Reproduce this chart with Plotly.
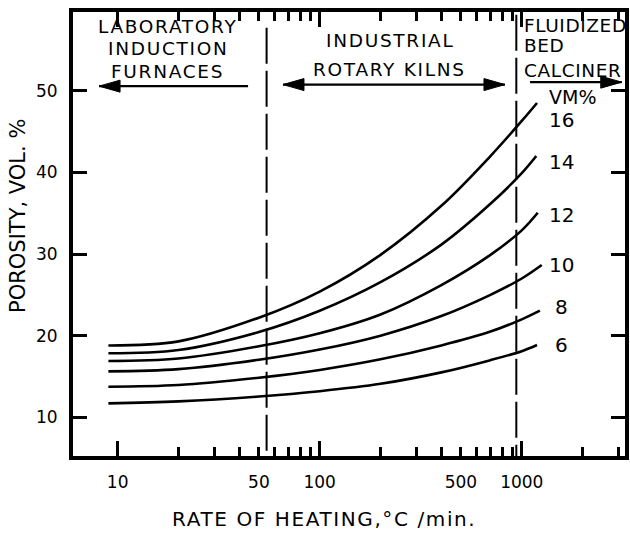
import math
import plotly.graph_objects as go

# ---------------- data ----------------
vm_levels = [16, 14, 12, 10, 8, 6]
rate = [9, 20, 50, 100, 200, 400, 700, 1000]
end_rate = [1190, 1180, 1200, 1256, 1230, 1190]
porosity_16 = [18.8, 19.3, 22.2, 25.4, 29.9, 35.9, 42.0, 46.3, 48.5]
porosity_14 = [17.85, 18.25, 20.45, 23.05, 26.55, 31.15, 36.15, 39.9, 42.0]
porosity_12 = [16.9, 17.2, 18.7, 20.3, 22.6, 26.2, 29.9, 32.9, 35.05]
porosity_10 = [15.63, 15.9, 17.05, 18.3, 20.0, 22.4, 25.0, 27.0, 28.65]
porosity_8 = [13.75, 13.95, 14.85, 15.8, 17.1, 18.8, 20.5, 22.0, 23.06]
porosity_6 = [11.7, 11.95, 12.55, 13.2, 14.1, 15.5, 17.0, 18.1, 18.85]
porosity = [porosity_16, porosity_14, porosity_12, porosity_10, porosity_8, porosity_6]

label_rate = 1571
label_y = [46.4, 41.3, 34.8, 28.65, 23.55, 18.85]
vm_header = "VM%"
vm_header_pos = [1775, 49.2]

x_labeled = {10: "10", 50: "50", 100: "100", 500: "500", 1000: "1000"}
x_tick_positions = [10, 20, 30, 40, 50, 60, 70, 80, 90, 100, 200, 300, 400, 500,
                    600, 700, 800, 900, 1000, 2000, 3000]
x_long_ticks = [10, 100, 1000]
y_tick_vals = [10, 20, 30, 40, 50]

boundary_rates = [54.6, 940]
boundary_top = [57.7, 59.3]

regions = [
    {"lines": ["LABORATORY", "INDUCTION", "FURNACES"], "x": 17.7, "y": [57.9, 55.2, 52.3],
     "anchor": "center", "sp": 1.7},
    {"lines": ["INDUSTRIAL", "ROTARY KILNS"], "x": 222, "y": [56.1, 52.6],
     "anchor": "center", "sp": 1.7},
    {"lines": ["FLUIDIZED", "BED", "CALCINER"], "x": 1004, "y": [58.0, 55.5, 52.5],
     "anchor": "left", "sp": 0.6},
]
# arrows: (start, end, y, heads)
arrows = [
    (44.2, 8.09, 50.56, ["end"]),
    (65.8, 826, 50.75, ["start", "end"]),
    (1099, 3126, 51.05, ["end"]),
]

x_range_log = [0.779, 3.511]
y_range = [5.26, 59.64]

FONT = "DejaVu Sans"
L, R, T, B = 73, 5, 12, 78
W, H = 630, 534
PW, PH = W - L - R, H - T - B


def spaced(txt, sp):
    return f'<span style="letter-spacing:{sp}px">{txt}</span>'


fig = go.Figure()
for lvl, ys, xe in zip(vm_levels, porosity, end_rate):
    fig.add_trace(go.Scatter(
        x=rate + [xe], y=ys, mode="lines", name=f"{lvl}",
        line=dict(color="black", width=2.6, shape="spline", smoothing=1.0),
        showlegend=False, hoverinfo="skip"))

# boundaries
for xb, yt in zip(boundary_rates, boundary_top):
    fig.add_shape(type="line", xref="x", yref="y", x0=xb, x1=xb, y0=yt, y1=y_range[0],
                  line=dict(color="black", width=2, dash="36px,7px"))

# arrows
for xs, xe, ya, heads in arrows:
    fig.add_shape(type="line", xref="x", yref="y", x0=xs, x1=xe, y0=ya, y1=ya,
                  line=dict(color="black", width=2.4))
    for h in heads:
        tip = xe if h == "end" else xs
        other = xs if h == "end" else xe
        d = 1 if other > tip else -1
        fig.add_shape(type="path", xref="x", yref="y", xsizemode="pixel", ysizemode="pixel",
                      xanchor=tip, yanchor=ya,
                      path=f"M0,0 L{21*d},6 L{21*d},-6 Z",
                      fillcolor="black", line=dict(color="black", width=1))

ann = []
for reg in regions:
    for txt, yy in zip(reg["lines"], reg["y"]):
        ann.append(dict(text=spaced(txt, reg["sp"]), x=math.log10(reg["x"]), y=yy, xref="x", yref="y",
                        showarrow=False, xanchor=reg["anchor"], yanchor="middle",
                        font=dict(family=FONT, size=18.5, color="black")))

ann.append(dict(text=vm_header, x=math.log10(vm_header_pos[0]), y=vm_header_pos[1], xref="x", yref="y",
                showarrow=False, font=dict(family=FONT, size=19, color="black")))
for lvl, yy in zip(vm_levels, label_y):
    ann.append(dict(text=str(lvl), x=math.log10(label_rate), y=yy, xref="x", yref="y",
                    showarrow=False, font=dict(family=FONT, size=20, color="black")))

ann.append(dict(text=spaced("RATE OF HEATING,°C /min.", 1.6), x=(323.5 - L) / PW, y=(H - B - 519) / PH,
                xref="paper", yref="paper", showarrow=False, xanchor="center", yanchor="middle",
                font=dict(family=FONT, size=20, color="black")))
ann.append(dict(text="POROSITY, VOL. %", x=(18 - L) / PW, y=(H - B - 216) / PH, textangle=-90,
                xref="paper", yref="paper", showarrow=False, xanchor="center", yanchor="middle",
                font=dict(family=FONT, size=21, color="black")))

fig.update_layout(
    width=W, height=H,
    margin=dict(l=L, r=R, t=T, b=B, pad=0),
    paper_bgcolor="white", plot_bgcolor="white",
    font=dict(family=FONT, color="black"),
    annotations=ann,
    xaxis=dict(type="log", range=x_range_log, tickmode="array", tickvals=x_tick_positions,
               ticktext=[x_labeled.get(v, "") for v in x_tick_positions],
               ticks="inside", ticklen=9, tickwidth=2.5, tickcolor="black",
               showgrid=False, zeroline=False, automargin=False,
               showline=True, linewidth=4, linecolor="black", mirror="ticks", ticklabelstandoff=8,
               tickfont=dict(family=FONT, size=17, color="black"),
               minor=dict(tickmode="array", tickvals=x_long_ticks, ticks="inside", ticklen=15,
                          tickwidth=2.5, tickcolor="black", showgrid=False)),
    yaxis=dict(range=y_range, tickmode="array", tickvals=y_tick_vals, ticks="inside",
               ticklen=14, tickwidth=3, tickcolor="black", showgrid=False, zeroline=False,
               automargin=False, ticklabelstandoff=8,
               showline=True, linewidth=4, linecolor="black", mirror="ticks",
               tickfont=dict(family=FONT, size=17, color="black")),
)

fig.write_html("out.html", config={"displayModeBar": False},
               post_script="document.body.style.margin='0px';document.body.style.overflow='hidden';")
